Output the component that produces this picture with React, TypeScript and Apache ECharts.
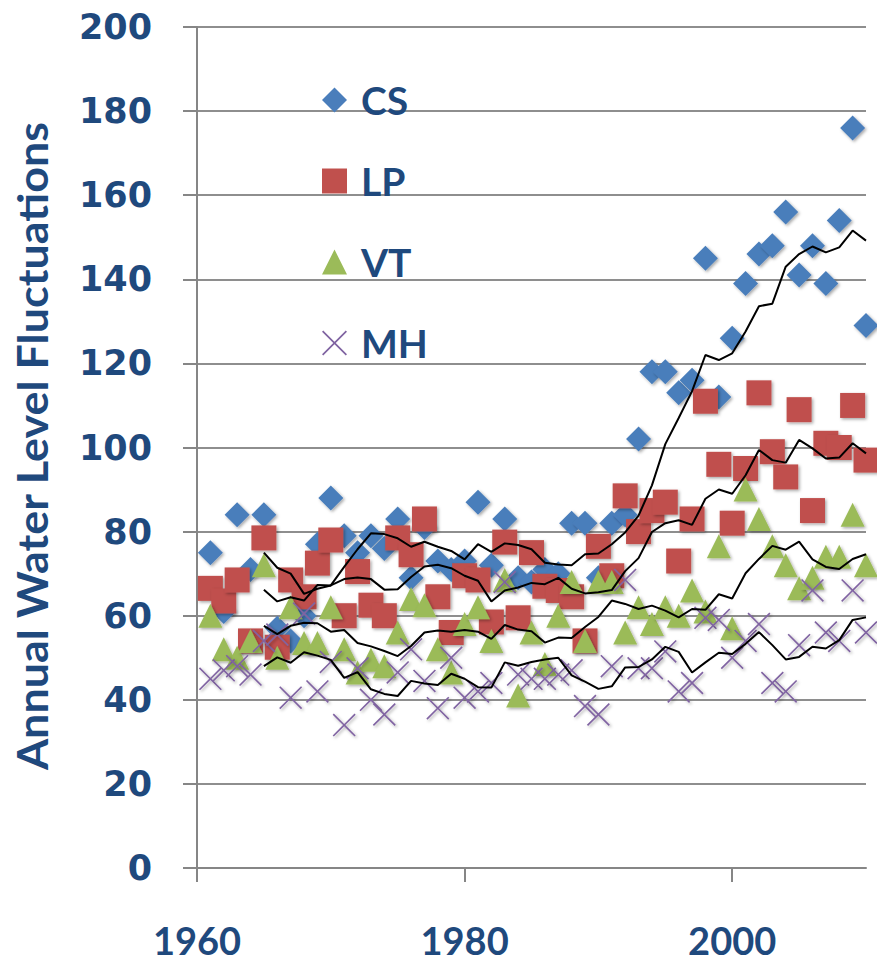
import React, { useEffect, useRef } from 'react';
import * as echarts from 'echarts';

// ---- data ----
const years = [
  1961, 1962, 1963, 1964, 1965, 1966, 1967, 1968, 1969, 1970,
  1971, 1972, 1973, 1974, 1975, 1976, 1977, 1978, 1979, 1980,
  1981, 1982, 1983, 1984, 1985, 1986, 1987, 1988, 1989, 1990,
  1991, 1992, 1993, 1994, 1995, 1996, 1997, 1998, 1999, 2000,
  2001, 2002, 2003, 2004, 2005, 2006, 2007, 2008, 2009, 2010,
];

const csValues = [
  75, 61, 84, 71, 84, 57, 54, 60, 77, 88,
  79, 75, 79, 76, 83, 69, 81, 73, 71, 73,
  87, 72, 83, 69, 68, 71, 70, 82, 82, 69,
  82, 84, 102, 118, 118, 113, 116, 145, 112, 126,
  139, 146, 148, 156, 141, 148, 139, 154, 176, 129,
];

const lpValues = [
  66.5, 63.5, 68.5, 54, 78.5, 52.5, 68.5, 64.5, 72.5, 78,
  60, 70.5, 62.5, 60, 78.5, 74.5, 83, 64.5, 56, 69.5,
  68.5, 58.5, 77.5, 59.5, 75, 67, 66, 64.5, 54, 76.5,
  69.5, 88.5, 80, 85, 87, 73, 83, 111, 96, 82,
  95, 113, 99, 93, 109, 85, 101, 100, 110, 97,
];

const vtValues = [
  60, 52, 50, 54, 72, 50, 62, 53.5, 53.5, 62,
  52, 46.5, 49.5, 48, 56, 64, 62.5, 52, 46.5, 58,
  62, 54, 68.5, 41, 56, 48.5, 60, 68, 54, 68,
  68, 56, 62, 58, 62, 60, 66, 61, 76.5, 57,
  90, 83, 76.5, 72, 66.5, 69, 74, 74, 84, 72,
];

const mhValues = [
  45, 47, 48, 46, 54, 55.5, 40.5, 60.5, 42, 49,
  34, 47.5, 40, 36.5, 46.5, 52, 44.5, 38, 50, 40.5,
  42, 44, 68, 46, 45, 45, 46, 47, 38.5, 36.5,
  48, 68.5, 47.5, 47.5, 51.5, 42, 44, 59.5, 59, 50,
  54, 58, 44, 42, 53, 66, 56, 54, 66, 56,
];

// moving-average lines (1965 - 2010) as drawn in the picture
const trendYears = [
  1965, 1966, 1967, 1968, 1969, 1970, 1971, 1972, 1973, 1974,
  1975, 1976, 1977, 1978, 1979, 1980, 1981, 1982, 1983, 1984,
  1985, 1986, 1987, 1988, 1989, 1990, 1991, 1992, 1993, 1994,
  1995, 1996, 1997, 1998, 1999, 2000, 2001, 2002, 2003, 2004,
  2005, 2006, 2007, 2008, 2009, 2010,
];

const csTrend = [
  75.0, 71.4, 70.0, 65.2, 66.4, 67.2, 71.6, 75.8, 79.6, 79.4,
  78.4, 76.4, 77.6, 76.4, 75.4, 73.4, 77.0, 75.2, 77.2, 76.8,
  75.8, 72.6, 72.2, 72.0, 74.6, 74.8, 77.0, 79.8, 83.8, 91.0,
  100.8, 107.0, 113.4, 122.0, 120.8, 122.4, 127.6, 133.6, 134.2, 143.0,
  146.0, 147.8, 146.4, 147.6, 151.6, 149.2,
];

const lpTrend = [
  66.2, 63.4, 64.4, 63.6, 67.3, 67.2, 68.7, 69.1, 68.7, 66.2,
  66.3, 69.2, 71.7, 72.1, 71.3, 69.5, 68.3, 63.4, 66.0, 66.7,
  67.8, 67.5, 69.0, 66.4, 65.3, 65.6, 66.1, 70.6, 73.7, 79.9,
  82.0, 82.7, 81.6, 87.8, 90.0, 89.0, 93.4, 99.4, 97.0, 96.4,
  101.8, 99.8, 97.4, 97.6, 101.0, 98.6,
];

const vtTrend = [
  57.6, 55.6, 57.6, 58.3, 58.2, 56.2, 56.6, 53.5, 52.7, 51.6,
  50.4, 52.8, 56.0, 56.5, 56.2, 56.6, 56.2, 54.5, 57.8, 56.7,
  56.3, 53.6, 54.8, 54.7, 57.3, 59.7, 63.6, 62.8, 61.6, 62.4,
  61.2, 59.6, 61.6, 61.4, 65.1, 64.1, 70.1, 73.5, 76.6, 75.7,
  77.6, 73.4, 71.6, 71.1, 73.5, 74.6,
];

const mhTrend = [
  48.0, 50.1, 48.8, 51.3, 50.5, 49.5, 45.2, 46.6, 42.5, 41.4,
  40.9, 44.5, 43.9, 43.5, 46.2, 45.0, 43.0, 42.9, 48.9, 48.1,
  49.0, 49.6, 50.0, 45.8, 44.3, 42.6, 43.2, 47.7, 47.8, 49.6,
  52.6, 51.4, 46.5, 48.9, 51.2, 50.9, 53.3, 56.1, 53.0, 49.6,
  50.2, 52.6, 52.2, 54.2, 59.0, 59.6,
];

const seriesNames = ['CS', 'LP', 'VT', 'MH'];
const xTickValues = [1960, 1980, 2000];

// ---- styling ----
const TEXT_BLUE = '#1F497D';
const AXIS_GREY = '#868686';
const X_MARK =
  'path://M0,5 L5,0 L50,45 L95,0 L100,5 L55,50 L100,95 L95,100 L50,55 L5,100 L0,95 L45,50 Z';

const pairs = (xs: number[], ys: number[]) => xs.map((x, i) => [x, ys[i]]);

const shadow = {
  shadowBlur: 3,
  shadowColor: 'rgba(0,0,0,0.35)',
  shadowOffsetX: 1.5,
  shadowOffsetY: 1.5,
};

export default function App() {
  const ref = useRef<HTMLDivElement>(null);

  useEffect(() => {
    document.body.style.margin = '0';
    if (!ref.current) return;
    const chart = echarts.init(ref.current, undefined, { renderer: 'svg' });

    const scatter = (name: string, values: number[], symbol: string, size: number, color: string) => ({
      name,
      type: 'scatter',
      symbol,
      symbolSize: size,
      data: pairs(years, values),
      itemStyle: { color, opacity: 1, ...shadow },
      z: 2,
    });

    const trend = (name: string, values: number[]) => ({
      name,
      type: 'line',
      data: pairs(trendYears, values),
      showSymbol: false,
      symbol: 'none',
      lineStyle: { color: '#000000', width: 2 },
      z: 3,
      silent: true,
    });

    chart.setOption({
      animation: false,
      backgroundColor: '#ffffff',
      grid: { left: 197, right: 11, top: 27, bottom: 97, containLabel: false },
      legend: {
        data: seriesNames,
        orient: 'vertical',
        left: 317,
        top: 75,
        itemWidth: 25,
        itemHeight: 25,
        itemGap: 41,
        textStyle: {
          color: TEXT_BLUE,
          fontFamily: 'Lato',
          fontWeight: 'bold',
          fontSize: 39,
          lineHeight: 40,
          padding: [0, 0, 0, 9],
        },
      },
      xAxis: {
        type: 'value',
        min: 1960,
        max: 2010,
        interval: 20,
        axisLine: { show: true, lineStyle: { color: AXIS_GREY, width: 2 } },
        axisTick: { show: true, length: 14, customValues: xTickValues, lineStyle: { color: AXIS_GREY, width: 2 } },
        axisLabel: {
          customValues: xTickValues,
          formatter: (v: number) => String(v),
          margin: 52,
          color: TEXT_BLUE,
          fontFamily: 'Lato',
          fontWeight: 'bold',
          fontSize: 38,
          lineHeight: 40,
        },
        splitLine: { show: false },
      },
      yAxis: {
        type: 'value',
        min: 0,
        max: 200,
        interval: 20,
        axisLine: { show: true, lineStyle: { color: AXIS_GREY, width: 2 } },
        axisTick: { show: true, length: 14, lineStyle: { color: AXIS_GREY, width: 2 } },
        axisLabel: {
          margin: 45,
          color: TEXT_BLUE,
          fontFamily: 'DejaVu Sans',
          fontWeight: 'bold',
          fontSize: 35,
        },
        splitLine: { show: true, lineStyle: { color: '#8e8e8e', width: 2 } },
      },
      graphic: [
        {
          type: 'text',
          x: 32,
          y: 446,
          rotation: Math.PI / 2,
          scaleX: 1.07,
          style: {
            text: 'Annual Water Level Fluctuations',
            fill: TEXT_BLUE,
            font: 'bold 42px Lato',
            align: 'center',
            verticalAlign: 'middle',
          },
        },
      ],
      series: [
        scatter('CS', csValues, 'diamond', 25, '#4A7EBB'),
        scatter('LP', lpValues, 'rect', 25, '#C0504D'),
        scatter('VT', vtValues, 'triangle', 24, '#9BBB59'),
        scatter('MH', mhValues, X_MARK, 23, '#8064A2'),
        trend('CS trend', csTrend),
        trend('LP trend', lpTrend),
        trend('VT trend', vtTrend),
        trend('MH trend', mhTrend),
      ],
    });

    return () => chart.dispose();
  }, []);

  return (
    <div
      ref={ref}
      style={{ position: 'absolute', left: 0, top: 0, width: 877, height: 965 }}
    />
  );
}
